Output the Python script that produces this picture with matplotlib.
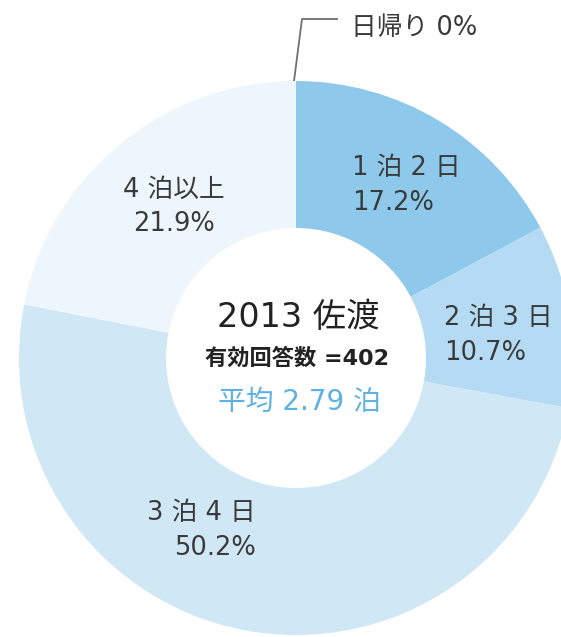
import matplotlib
matplotlib.use("Agg")
import matplotlib.pyplot as plt

plt.rcParams['font.family'] = ['DejaVu Sans', 'Noto Sans CJK JP']

# ---- data ----
categories = ["日帰り", "1 泊 2 日", "2 泊 3 日", "3 泊 4 日", "4 泊以上"]
values = [0.0, 17.2, 10.7, 50.2, 21.9]
value_labels = ["0%", "17.2%", "10.7%", "50.2%", "21.9%"]
center_title = "2013 佐渡"
center_n = "有効回答数 =402"
center_avg = "平均 2.79 泊"

# ---- style / layout ----
W, H = 561, 637
colors = ["#8ec9ec", "#8ec9ec", "#b4dbf3", "#d0e7f6", "#edf6fd"]
text_color = "#3a3a3a"
blue_text = "#5eb1e4"
cx, cy_px = 296, 358
R_out, R_in = 277, 130

def py(y):
    return H - y

fig = plt.figure(figsize=(W / 100, H / 100), dpi=100)
ax = fig.add_axes([0, 0, 1, 1])
ax.pie(values, startangle=90, counterclock=False, colors=colors,
       radius=R_out, center=(cx, py(cy_px)),
       wedgeprops=dict(width=R_out - R_in, edgecolor="none", linewidth=0))
ax.set_xlim(0, W)
ax.set_ylim(0, H)
ax.set_aspect("equal")
ax.axis("off")

# label layout (text positions in pixel coords)
label_pos = {
    1: (352, 168, 203, "left"),
    2: (444, 318, 353, "left"),
    3: (256, 513, 548, "right"),
    4: (174, 190, 224, "center"),
}
fs = 18.5
for i, (x, y1, y2, ha) in label_pos.items():
    ax.text(x, py(y1), categories[i], ha=ha, va="center", fontsize=fs, color=text_color)
    ax.text(x, py(y2), value_labels[i], ha=ha, va="center", fontsize=fs, color=text_color)

# 0% leader line
top_x, top_y = cx - 2, cy_px - R_out
ax.plot([top_x, top_x + 8, top_x + 44], [py(top_y), py(19), py(19)],
        color="#707070", lw=1.3, solid_capstyle="butt")
ax.text(351, py(28), categories[0] + " " + value_labels[0], ha="left", va="center",
        fontsize=fs, color=text_color)

# center texts
ax.text(298, py(318), center_title, ha="center", va="center", fontsize=24, color="#222222")
ax.text(297, py(358), center_n, ha="center", va="center", fontsize=16,
        color="#222222", fontweight="bold")
ax.text(299, py(402), center_avg, ha="center", va="center", fontsize=20, color=blue_text)

fig.savefig("out.png", dpi=100)
